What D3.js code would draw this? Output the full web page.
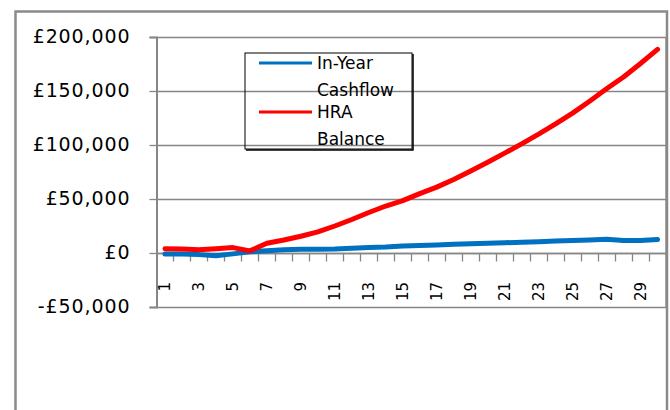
<!DOCTYPE html>
<html>
<head>
<meta charset="utf-8">
<script src="https://cdn.jsdelivr.net/npm/d3@7"></script>
<style>
  html, body { margin: 0; padding: 0; background: #fff; }
  svg { display: block; }
  text { font-family: "DejaVu Sans", Verdana, sans-serif; fill: #000; }
</style>
</head>
<body>
<svg id="chart" width="670" height="410"></svg>
<script>
// ---- data ----
const categories = d3.range(1, 31);
const inYearCashflow = [-1000, -1000, -1500, -2500, -800, 1200, 2000, 3000, 3500, 3500,
  3800, 4500, 5000, 5500, 6500, 7000, 7500, 8000, 8500, 9000,
  9500, 10000, 10500, 11000, 11500, 12000, 12800, 11500, 11500, 12500];
const hraBalance = [4000, 3800, 3000, 4000, 5000, 2000, 9000, 12000, 15500, 19500,
  25000, 31000, 37500, 43500, 48500, 55000, 61000, 68000, 76000, 84000,
  92500, 101000, 110000, 119500, 129500, 140500, 152000, 163000, 175500, 188500];
const yTicks = [-50000, 0, 50000, 100000, 150000, 200000];
const xLabelCats = categories.filter(c => c % 2 === 1);
const seriesNames = ["In-Year Cashflow", "HRA Balance"];
const seriesColors = ["#0070C0", "#FF0000"];

// ---- layout ----
const svg = d3.select("#chart");
const plot = { left: 156.5, right: 666, top: 37, bottom: 307 };

const x = d3.scaleBand().domain(categories).range([plot.left, plot.right]).padding(0);
const y = d3.scaleLinear().domain([-50000, 200000]).range([plot.bottom, plot.top]);
const gridGray = "#868686";

// outer chart frame
svg.append("path")
  .attr("d", `M15.5,420 L15.5,11.5 L667,11.5 L667,420`)
  .attr("fill", "none").attr("stroke", "#8a8a8a").attr("stroke-width", 2.5);

// gridlines
svg.append("g").selectAll("line").data(yTicks.filter(t => t !== -50000)).join("line")
  .attr("x1", plot.left).attr("x2", plot.right)
  .attr("y1", d => Math.round(y(d)) + 0.5).attr("y2", d => Math.round(y(d)) + 0.5)
  .attr("stroke", gridGray).attr("stroke-width", 1.3);

// plot area bottom and right border
svg.append("line").attr("x1", plot.left).attr("x2", plot.right)
  .attr("y1", plot.bottom + 0.5).attr("y2", plot.bottom + 0.5)
  .attr("stroke", gridGray).attr("stroke-width", 1.3);
svg.append("line").attr("x1", plot.right).attr("x2", plot.right)
  .attr("y1", plot.top).attr("y2", plot.bottom)
  .attr("stroke", gridGray).attr("stroke-width", 1.3);

// y axis
const yAxis = svg.append("g")
  .attr("transform", `translate(${plot.left},0)`)
  .call(d3.axisLeft(y).tickValues(yTicks).tickSize(7).tickPadding(19)
    .tickFormat(d => (d < 0 ? "-£" : "£") + d3.format(",")(Math.abs(d))));
yAxis.select(".domain").attr("stroke", gridGray).attr("stroke-width", 2);
yAxis.selectAll(".tick line").attr("stroke", gridGray).attr("stroke-width", 1.3);
yAxis.selectAll(".tick text")
  .attr("font-size", 19).attr("letter-spacing", "0.9px")
  .attr("font-family", "DejaVu Sans").attr("fill", "#000").attr("dy", "0.3em");

// x (category) axis at zero
const zeroY = Math.round(y(0)) + 0.5;
const xg = svg.append("g");
xg.append("line").attr("x1", plot.left).attr("x2", plot.right)
  .attr("y1", zeroY).attr("y2", zeroY).attr("stroke", gridGray).attr("stroke-width", 1.3);
xg.selectAll("line.tick").data(categories.slice(1)).join("line").attr("class", "tick")
  .attr("x1", d => Math.round(x(d)) + 0.5).attr("x2", d => Math.round(x(d)) + 0.5)
  .attr("y1", zeroY).attr("y2", zeroY + 8)
  .attr("stroke", gridGray).attr("stroke-width", 1.3);
xg.selectAll("text").data(xLabelCats).join("text")
  .attr("transform", d => `translate(${x(d) + x.bandwidth() / 2 + 5},282) rotate(-90)`)
  .attr("text-anchor", "end")
  .attr("font-size", 15)
  .text(d => d);

// lines
const line = d3.line()
  .x((d, i) => x(categories[i]) + x.bandwidth() / 2)
  .y(d => y(d));
[inYearCashflow, hraBalance].forEach((vals, k) => {
  svg.append("path").datum(vals)
    .attr("d", line)
    .attr("fill", "none")
    .attr("stroke", seriesColors[k])
    .attr("stroke-width", 5)
    .attr("stroke-linejoin", "round")
    .attr("stroke-linecap", "round");
});

// legend
const lg = svg.append("g");
lg.append("rect").attr("x", 245).attr("y", 53).attr("width", 167).attr("height", 96)
  .attr("fill", "none").attr("stroke", "#000").attr("stroke-width", 1);
lg.append("path").attr("d", "M246,150 L413,150 L413,54")
  .attr("fill", "none").attr("stroke", "#000").attr("stroke-width", 1.5);
const legendRows = [
  { lines: ["In-Year", "Cashflow"], y: 63 },
  { lines: ["HRA", "Balance"], y: 112 }
];
legendRows.forEach((r, k) => {
  lg.append("line").attr("x1", 259).attr("x2", 312).attr("y1", r.y).attr("y2", r.y)
    .attr("stroke", seriesColors[k]).attr("stroke-width", 3);
  r.lines.forEach((t, j) => {
    lg.append("text").attr("x", 317).attr("y", r.y + 6 + j * 26.5)
      .attr("font-size", 17).text(t);
  });
});
</script>
</body>
</html>
